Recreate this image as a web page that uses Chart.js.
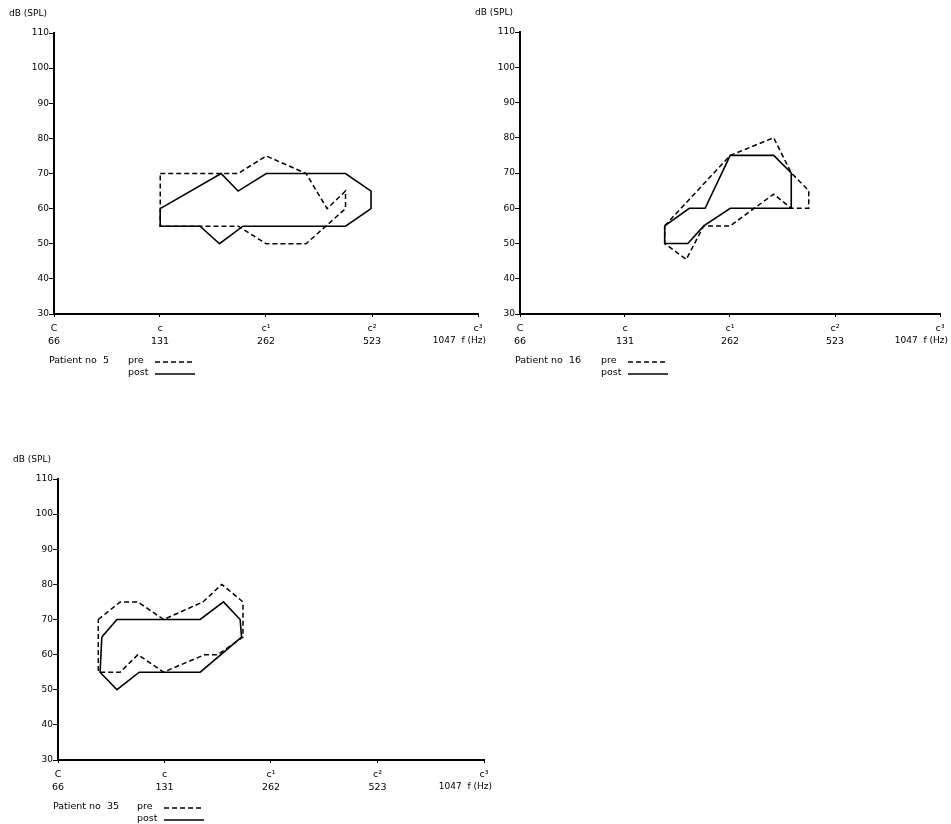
<!DOCTYPE html>
<html>
<head>
<meta charset="utf-8">
<script src="https://cdn.jsdelivr.net/npm/chart.js@4/dist/chart.umd.min.js"></script>
<style>
  body { margin: 0; background: #fff; }
  .panel { position: absolute; }
</style>
</head>
<body>
<div class="panel" style="left:0;top:0"><canvas id="p5" width="490" height="390"></canvas></div>
<div class="panel" style="left:470px;top:0"><canvas id="p16" width="481" height="390"></canvas></div>
<div class="panel" style="left:0;top:440px"><canvas id="p35" width="500" height="384"></canvas></div>
<script>
// x axis: octaves of C, log frequency
const freqTicks = [65.4, 130.8, 261.6, 523.3, 1046.5]
const noteLabels = ['C', 'c', 'c¹', 'c²', 'c³']
const freqLabels = ['66', '131', '262', '523', '1047']
const dbMin = 30
const dbMax = 110

// patient 5
const p5PreHz = [131, 218, 262, 340, 390, 440, 440, 340, 262, 218, 131, 131]
const p5PreDb = [70, 70, 75, 70, 60, 65, 60, 50, 50, 55, 55, 70]
const p5PostHz = [131, 195, 218, 262, 440, 520, 520, 440, 225, 193, 170, 131, 131]
const p5PostDb = [60, 70, 65, 70, 70, 65, 60, 55, 55, 50, 55, 55, 60]

// patient 16
const p16PreHz = [170, 262, 349, 392, 440, 440, 392, 349, 262, 220, 196, 170, 170]
const p16PreDb = [55, 75, 80, 70, 65, 60, 60, 64, 55, 55, 45.5, 50, 55]
const p16PostHz = [170, 200, 222, 262, 349, 392, 392, 262, 220, 198, 170, 170]
const p16PostDb = [55, 60, 60, 75, 75, 70, 60, 60, 55, 50, 50, 55]

// patient 35
const p35PreHz = [85, 98, 110, 130, 168, 190, 218, 218, 185, 170, 130, 110, 98, 85, 85]
const p35PreDb = [70, 75, 75, 70, 75, 80, 75, 65, 60, 60, 55, 60, 55, 55, 70]
const p35PostHz = [87, 96, 165, 192, 214, 216, 165, 111, 96, 86, 87]
const p35PostDb = [65, 70, 70, 75, 70, 65, 55, 55, 50, 55, 65]

const FONT = '"DejaVu Sans", sans-serif'
const points = (hz, db) => hz.map((f, i) => ({ x: f, y: db[i] }))

// dB (SPL) title, last frequency + unit, patient legend
const panelText = {
    id: 'panelText',
    afterDraw(chart, args, opts) {
        const { ctx, chartArea: a } = chart
        const x = chart.scales.x
        ctx.save()
        ctx.fillStyle = '#000'
        ctx.strokeStyle = '#000'
        ctx.textBaseline = 'middle'
        ctx.font = '9px ' + FONT
        ctx.textAlign = 'left'
        ctx.fillText('dB (SPL)', a.left - 45, a.top - 19)
        ctx.textAlign = 'right'
        ctx.fillText(freqLabels[4] + '  f (Hz)', x.getPixelForValue(freqTicks[4]) + 8, a.bottom + 27)

        ctx.textAlign = 'left'
        ctx.font = '9.5px ' + FONT
        const ly = a.bottom + 47
        ctx.fillText('Patient no  ' + opts.patient, a.left - 5, ly)
        ctx.fillText('pre', a.left + opts.preX, ly)
        ctx.fillText('post', a.left + opts.preX, ly + 12)
        const lx = a.left + opts.preX + 27
        ctx.lineWidth = 1.5
        ctx.setLineDash([5, 3])
        ctx.beginPath(); ctx.moveTo(lx, ly + 1); ctx.lineTo(lx + 40, ly + 1); ctx.stroke()
        ctx.setLineDash([])
        ctx.beginPath(); ctx.moveTo(lx, ly + 13); ctx.lineTo(lx + 40, ly + 13); ctx.stroke()
        ctx.restore()
    }
}

const voiceChart = (id, pre, post, patient, pad, preX) => {
    new Chart(document.getElementById(id), {
        type: 'scatter',
        plugins: [panelText],
        data: {
            datasets: [{
                label: 'pre',
                data: pre,
                showLine: true,
                borderColor: '#000',
                borderWidth: 1.5,
                borderDash: [5, 3],
                pointRadius: 0,
                fill: false,
            }, {
                label: 'post',
                data: post,
                showLine: true,
                borderColor: '#000',
                borderWidth: 1.6,
                pointRadius: 0,
                fill: false,
            }]
        },
        options: {
            responsive: false,
            animation: false,
            devicePixelRatio: 1,
            layout: { padding: pad },
            scales: {
                x: {
                    type: 'logarithmic',
                    min: freqTicks[0],
                    max: freqTicks[4],
                    afterBuildTicks: (s) => { s.ticks = freqTicks.map(v => ({ value: v })) },
                    afterFit: (s) => { s.height = 40; s.paddingLeft = 0; s.paddingRight = 0 },
                    border: { display: true, color: '#000', width: 2 },
                    grid: { drawOnChartArea: false, tickLength: 3, color: '#000' },
                    ticks: {
                        autoSkip: false,
                        maxRotation: 0,
                        padding: 5,
                        color: '#000',
                        font: { family: FONT, size: 9.5, lineHeight: 1.4 },
                        callback: (v, i) => i === 4 ? [noteLabels[i], ''] : [noteLabels[i], freqLabels[i]],
                    },
                },
                y: {
                    min: dbMin,
                    max: dbMax,
                    afterFit: (s) => { s.width = 44; s.paddingTop = 0; s.paddingBottom = 0 },
                    border: { display: true, color: '#000', width: 2 },
                    grid: { drawOnChartArea: false, tickLength: 5, color: '#000' },
                    ticks: {
                        stepSize: 10,
                        padding: 0,
                        color: '#000',
                        font: { family: FONT, size: 9 },
                    },
                },
            },
            plugins: {
                legend: { display: false },
                tooltip: { enabled: false },
                panelText: { patient: patient, preX: preX },
            }
        }
    })
}

voiceChart('p5', points(p5PreHz, p5PreDb), points(p5PostHz, p5PostDb), '5',
    { left: 10, right: 12, top: 33, bottom: 36 }, 74)
voiceChart('p16', points(p16PreHz, p16PreDb), points(p16PostHz, p16PostDb), '16',
    { left: 6, right: 11, top: 32, bottom: 36 }, 81)
voiceChart('p35', points(p35PreHz, p35PreDb), points(p35PostHz, p35PostDb), '35',
    { left: 14, right: 16, top: 39, bottom: 24 }, 79)
</script>
</body>
</html>
